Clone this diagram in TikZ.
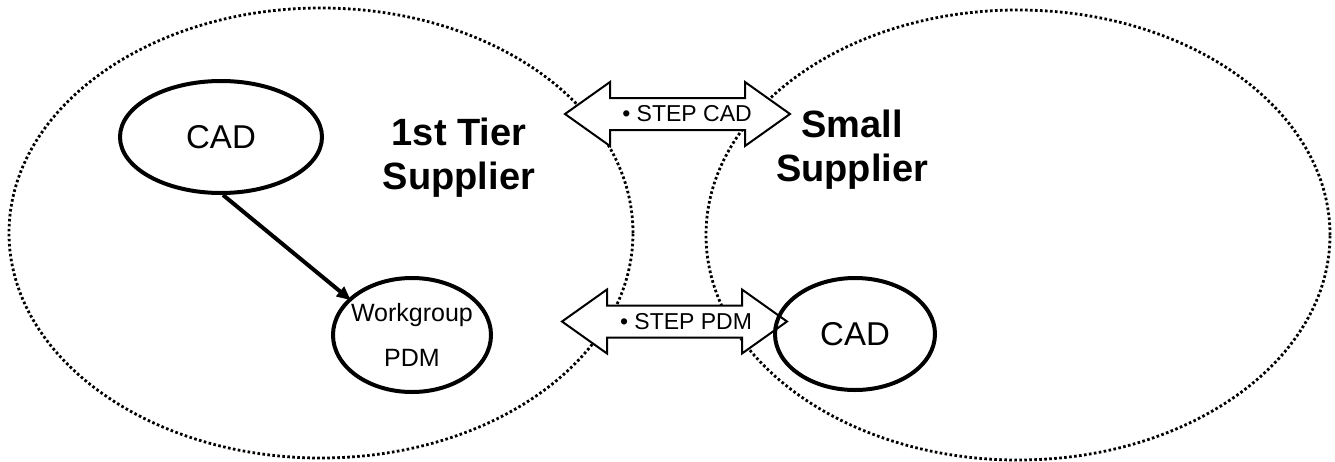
\documentclass[tikz,border=0pt]{standalone}
\usepackage{fontspec}
\setmainfont{Liberation Sans}
\usetikzlibrary{shapes.geometric,arrows.meta}

\tikzset{
  region/.style={draw, ellipse, line width=2.8pt, dash pattern=on 2.6pt off 2.4pt, inner sep=0pt},
  sysnode/.style={draw, ellipse, line width=4pt, inner sep=0pt, align=center},
  title/.style={align=center, inner sep=0pt, font=\bfseries\fontsize{38}{44}\selectfont},
  steptext/.style={inner sep=0pt, font=\fontsize{23}{27}\selectfont},
  flow/.style={line width=4pt, -{Triangle[length=14pt,width=12pt]}, shorten >=-3pt},
  pics/blockarrow/.style={code={
    \draw[line width=2pt, fill=white, line join=miter]
      (-112.5,0) -- (-67.5,-32) -- (-67.5,-16) -- (67.5,-16) -- (67.5,-32)
      -- (112.5,0) -- (67.5,32) -- (67.5,16) -- (-67.5,16) -- (-67.5,32) -- cycle;
  }}
}

\begin{document}
\begin{tikzpicture}[x=1pt, y=-1pt]
  \useasboundingbox (0,0) rectangle (1335,461);

  % the two organisations
  \node[region, minimum width=624pt, minimum height=450pt] (tier1) at (321,233) {};
  \node[region, minimum width=624pt, minimum height=450pt] (small) at (1018,235) {};

  % exchange channels between them
  \pic at (677.5,114) {blockarrow};
  \pic at (674.5,321.5) {blockarrow};
  \node[steptext] (stepcad) at (687,114) {•\ STEP CAD};
  \node[steptext] (steppdm) at (686,321.5) {•\ STEP PDM};

  % headings
  \node[title] (tier1title) at (459,158) {1st Tier\\Supplier};
  \node[title] (smalltitle) at (852,150) {Small\\Supplier};

  % systems
  \node[sysnode, minimum width=202pt, minimum height=112pt,
        font=\fontsize{33}{38}\selectfont] (cadL) at (221,137) {CAD};
  \node[sysnode, minimum width=158pt, minimum height=114pt,
        label={[font=\fontsize{25}{45}\selectfont, align=center, inner sep=0pt]center:Workgroup\\PDM}]
        (wg) at (412,335) {};
  \node[sysnode, minimum width=160pt, minimum height=112pt,
        font=\fontsize{33}{38}\selectfont] (cadR) at (855,334) {CAD};

  \draw[flow] (cadL.-88) -- (wg.150);
\end{tikzpicture}
\end{document}
